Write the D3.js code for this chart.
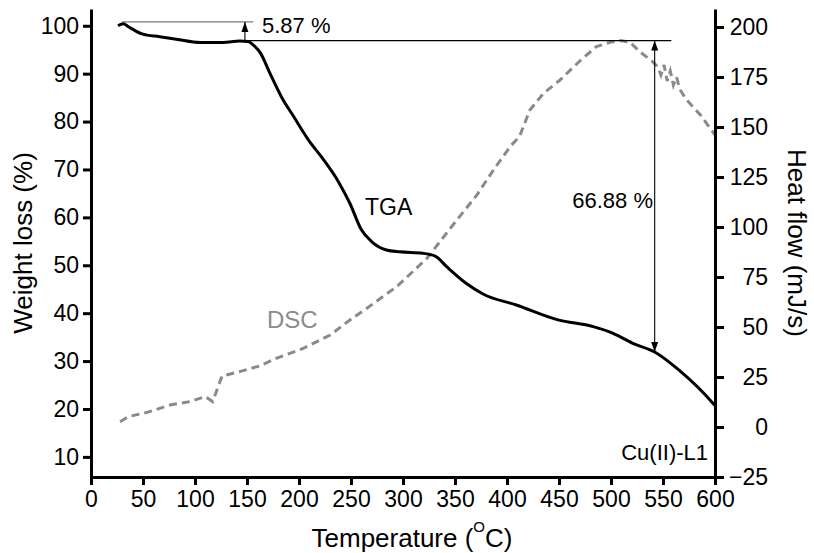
<!DOCTYPE html>
<html>
<head>
<meta charset="utf-8">
<script src="https://cdn.jsdelivr.net/npm/d3@7"></script>
<style>
  body { margin: 0; background: #fff; }
  text { font-family: "Liberation Sans", Arial, Helvetica, sans-serif; fill: #000; }
</style>
</head>
<body>
<svg id="chart" width="814" height="553"></svg>
<script>
// TGA: temperature (°C) and remaining mass (%)
const tgaTemp = [26, 31, 36, 49, 66, 82, 105, 127, 143, 151, 157, 163, 172, 183, 195, 209, 222, 238, 249, 260, 270, 284, 297, 319, 331, 342, 361, 377, 409, 449, 483, 502, 521, 542, 566, 598, 600];
const tgaWeight = [100.0, 100.4, 99.8, 98.3, 97.7, 97.2, 96.5, 96.5, 96.8, 96.7, 95.8, 94.3, 90.1, 85.2, 81.0, 76.2, 72.5, 67.4, 62.9, 57.4, 54.9, 53.2, 52.8, 52.5, 51.9, 49.7, 46.2, 44.0, 41.7, 38.6, 37.2, 35.8, 33.7, 31.9, 28.0, 21.2, 20.7];

// DSC: temperature (°C) and heat flow (mJ/s)
const dscTemp = [28, 36, 54, 76, 95, 110, 117, 126, 143, 162, 178, 204, 230, 249, 265, 294, 323, 348, 371, 387, 403, 412, 422, 435, 451, 470, 486, 500, 509, 518, 528, 540, 545, 548, 551, 554, 557, 560, 563, 566, 572, 586, 600];
const dscHeat = [2.6, 5.2, 7.3, 11.0, 12.7, 15.2, 12.7, 25.5, 27.7, 30.5, 34.3, 39.3, 46.0, 53.5, 59.3, 70.2, 84.3, 101.0, 116.0, 128.5, 140.2, 145.2, 158.5, 166.8, 173.5, 183.0, 190.2, 192.5, 193.2, 192.5, 187.5, 182.7, 180.0, 176.0, 181.0, 173.0, 178.0, 171.0, 175.0, 169.0, 164.0, 156.0, 146.0];

// Tick values
const xTickValues = [0, 50, 100, 150, 200, 250, 300, 350, 400, 450, 500, 550, 600];
const leftTickValues = [10, 20, 30, 40, 50, 60, 70, 80, 90, 100];
const rightTickValues = [-25, 0, 25, 50, 75, 100, 125, 150, 175, 200];

// Mass-loss annotations
const stepLabels = ["5.87 %", "66.88 %"];
const startLevel = 100.8;   // initial mass reference line
const plateauLevel = 96.9;  // mass after dehydration step
const stepTemps = [148, 542];
const endLevel = 31.9;      // mass at 542 °C

const svg = d3.select("#chart");

const x = d3.scaleLinear().domain([0, 600]).range([91, 715]);
const yL = d3.scaleLinear().domain([5.8, 103.5]).range([477, 9]);
const yR = d3.scaleLinear().domain([-25, 209]).range([477, 9]);

// Arrowhead marker
const defs = svg.append("defs");
defs.append("marker")
  .attr("id", "arrow")
  .attr("viewBox", "0 0 10 10")
  .attr("refX", 10).attr("refY", 5)
  .attr("markerWidth", 10).attr("markerHeight", 10)
  .attr("markerUnits", "userSpaceOnUse")
  .attr("orient", "auto-start-reverse")
  .append("path")
  .attr("d", "M0,1.5 L10,5 L0,8.5 Z")
  .attr("fill", "#000");

// DSC curve (dashed grey)
const dscData = dscTemp.map((t, i) => [t, dscHeat[i]]);
svg.append("path")
  .datum(dscData)
  .attr("fill", "none")
  .attr("stroke", "#8a8a8a")
  .attr("stroke-width", 3)
  .attr("stroke-dasharray", "8,5")
  .attr("d", d3.line().x(d => x(d[0])).y(d => yR(d[1])));

// Annotation lines
svg.append("line")
  .attr("x1", x(30)).attr("x2", x(156))
  .attr("y1", yL(startLevel)).attr("y2", yL(startLevel))
  .attr("stroke", "#7a7a7a").attr("stroke-width", 1.3);
svg.append("line")
  .attr("x1", x(150)).attr("x2", x(558))
  .attr("y1", yL(plateauLevel)).attr("y2", yL(plateauLevel))
  .attr("stroke", "#000").attr("stroke-width", 1.1);
svg.append("line")
  .attr("x1", x(stepTemps[0])).attr("x2", x(stepTemps[0]))
  .attr("y1", yL(plateauLevel)).attr("y2", yL(startLevel))
  .attr("stroke", "#000").attr("stroke-width", 1.1)
  .attr("marker-end", "url(#arrow)");
svg.append("line")
  .attr("x1", x(stepTemps[1])).attr("x2", x(stepTemps[1]))
  .attr("y1", yL(plateauLevel)).attr("y2", yL(endLevel))
  .attr("stroke", "#000").attr("stroke-width", 1.1)
  .attr("marker-start", "url(#arrow)")
  .attr("marker-end", "url(#arrow)");

// TGA curve (solid black)
const tgaData = tgaTemp.map((t, i) => [t, tgaWeight[i]]);
svg.append("path")
  .datum(tgaData)
  .attr("fill", "none")
  .attr("stroke", "#000")
  .attr("stroke-width", 3)
  .attr("stroke-linejoin", "round")
  .attr("d", d3.line().curve(d3.curveMonotoneX).x(d => x(d[0])).y(d => yL(d[1])));

// Axes
function styleAxis(g) {
  g.select(".domain").attr("stroke", "#000").attr("stroke-width", 3);
  g.selectAll(".tick line").attr("stroke", "#000").attr("stroke-width", 3);
  g.selectAll(".tick text").attr("fill", "#000")
    .style("font-size", "23px")
    .style("font-family", "'Liberation Sans', Arial, sans-serif");
}

const gx = svg.append("g")
  .attr("transform", "translate(0,477)")
  .call(d3.axisBottom(x).tickValues(xTickValues).tickFormat(d3.format("d"))
    .tickSize(8).tickSizeOuter(0).tickPadding(6));
styleAxis(gx);

const gl = svg.append("g")
  .attr("transform", "translate(91,0)")
  .call(d3.axisLeft(yL).tickValues(leftTickValues).tickFormat(d3.format("d"))
    .tickSize(8).tickSizeOuter(0).tickPadding(4));
styleAxis(gl);

const gr = svg.append("g")
  .attr("transform", "translate(715,0)")
  .call(d3.axisRight(yR).tickValues(rightTickValues).tickFormat(d3.format("d"))
    .tickSize(9).tickSizeOuter(0).tickPadding(4));
styleAxis(gr);
gr.selectAll(".tick text").attr("text-anchor", "end").attr("x", 53);

// Axis titles
const xt = svg.append("text")
  .attr("x", 412).attr("y", 547)
  .attr("text-anchor", "middle")
  .style("font-size", "26px");
xt.append("tspan").text("Temperature (");
xt.append("tspan").attr("dy", -15).style("font-size", "15px").text("O");
xt.append("tspan").attr("dy", 15).text("C)");

svg.append("text")
  .attr("transform", "translate(32,243) rotate(-90)")
  .attr("text-anchor", "middle")
  .style("font-size", "26px")
  .text("Weight loss (%)");

svg.append("text")
  .attr("transform", "translate(788,243) rotate(90)")
  .attr("text-anchor", "middle")
  .style("font-size", "26px")
  .text("Heat flow (mJ/s)");

// Curve and step labels
svg.append("text").attr("x", 365).attr("y", 215)
  .style("font-size", "23px").text("TGA");
svg.append("text").attr("x", 267).attr("y", 328)
  .style("font-size", "24px").style("fill", "#8c8c8c").text("DSC");
svg.append("text").attr("x", 708).attr("y", 460)
  .attr("text-anchor", "end")
  .style("font-size", "22px").text("Cu(II)-L1");
svg.append("text").attr("x", 262).attr("y", 33)
  .style("font-size", "22px").text(stepLabels[0]);
svg.append("text").attr("x", 653).attr("y", 208)
  .attr("text-anchor", "end")
  .style("font-size", "22px").text(stepLabels[1]);
</script>
</body>
</html>
